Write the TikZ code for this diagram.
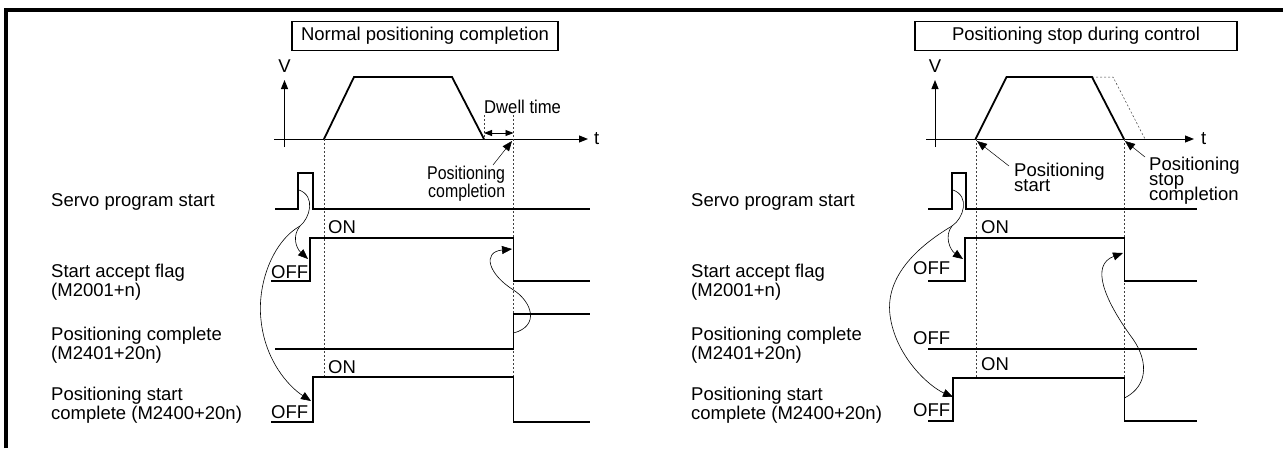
\documentclass[tikz,border=0pt]{standalone}
\usepackage{fontspec}
\setmainfont{Liberation Sans}
\usepackage{graphicx}
\usetikzlibrary{positioning,arrows.meta}

\newcommand\narrowtext[2]{\scalebox{#1}[1]{#2}}

\tikzset{
  txt/.style={inner sep=0pt, font=\fontsize{18.5}{20}\selectfont},
  stack/.style={inner sep=0pt, align=left, anchor=north west,
    font=\fontsize{18.5}{#1}\selectfont,
    execute at begin node={\lineskiplimit=-50pt\relax}},
  sigline/.style={line width=1.8pt},
  axisline/.style={line width=1pt, -{Triangle[length=9pt,width=7pt]}},
  guide/.style={line width=0.7pt, dash pattern=on 2pt off 2pt, black!75},
  cause/.style={line width=0.6pt, -{Triangle[length=10pt,width=8pt]}},
  titlebox/.style={draw, line width=1.3pt, inner sep=0pt, minimum height=29pt,
    font=\fontsize{18.5}{20}\selectfont},
}

\begin{document}
\begin{tikzpicture}[x=1pt,y=-1pt]
\useasboundingbox (0,0) rectangle (1283,448);
% frame
\draw[line width=4pt] (6,448) -- (6,10) -- (1283,10);

%%% left: normal positioning completion
\node[titlebox, minimum width=266pt] (lTitle) at (425,36) {Normal positioning completion};
\draw[axisline] (284.5,147) -- (284.5,80);
\node[txt] (lV) at (284.5,66) {V};
\draw[axisline] (274,139) -- (588,139);
\node[txt, anchor=west] (lT) at (594,139) {t};
\draw[sigline] (324,139) -- (354,77) -- (452,77) -- (484,139);

% dwell time
\draw[guide] (484,115) -- (484,139);
\draw[guide] (513.5,115) -- (513.5,378);
\draw[guide] (324,139) -- (324,377);
\draw[line width=0.8pt, {Triangle[length=8pt,width=6pt]}-{Triangle[length=8pt,width=6pt]}] (484,133) -- (513.5,133);
\node[txt, anchor=west] (lDwell) at (484,107) {\narrowtext{0.9}{Dwell time}};
\node[txt, anchor=base west] (lPc1) at (427,179.5) {\narrowtext{0.86}{Positioning}};
\node[txt, anchor=base west] (lPc2) at (428,197.5) {\narrowtext{0.86}{completion}};
\coordinate (lPcTip) at (512,141);
\draw[cause, line width=0.5pt] (493,165) -- (lPcTip);

% signal names
\node[txt, anchor=base west] (lServo) at (51,206) {Servo program start};
\node[txt, anchor=base west] (lAcc1) at (51,277) {Start accept flag};
\node[txt, anchor=base west] (lAcc2) at (51,296) {(M2001+n)};
\node[txt, anchor=base west] (lCmp1) at (51,340) {Positioning complete};
\node[txt, anchor=base west] (lCmp2) at (51,359) {(M2401+20n)};
\node[txt, anchor=base west] (lStc1) at (51,400) {Positioning start};
\node[txt, anchor=base west] (lStc2) at (51,419) {complete (M2400+20n)};

% waveforms
\draw[sigline] (275,209) -- (298,209) -- (298,173) -- (313,173) -- (313,209) -- (590,209);
\draw[sigline] (271,281) -- (310,281) -- (310,238) -- (513.5,238) -- (513.5,281) -- (590,281);
\draw[sigline] (275,349) -- (513.5,349) -- (513.5,314) -- (590,314);
\draw[sigline] (271,422) -- (313,422) -- (313,377) -- (513.5,377) -- (513.5,422) -- (590,422);
\node[txt, anchor=west] (lOn1) at (328,227) {ON};
\node[txt, anchor=west] (lOn2) at (328,367) {ON};
\node[txt, anchor=west] (lOff1) at (271,272) {OFF};
\node[txt, anchor=west] (lOff2) at (271,412) {OFF};

% cause arrows
\coordinate (lPulse) at (299,190);
\coordinate (lSplit) at (300,226);
\draw[cause] (lPulse) .. controls (316,196) and (310,218) .. (lSplit) .. controls (292,236) and (296,248) .. (308,259);
\draw[cause] (lSplit) .. controls (272,242) and (257,285) .. (261,320) .. controls (265,360) and (288,386) .. (311,401);
\draw[cause] (513.5,333) .. controls (540,326) and (532,302) .. (513.5,290) .. controls (488,274) and (482,252) .. (512,249);

%%% right: positioning stop during control
\node[titlebox, minimum width=322pt] (rTitle) at (1076,36) {Positioning stop during control};
\draw[axisline] (935,147) -- (935,80);
\node[txt] (rV) at (935,66) {V};
\draw[axisline] (926,139) -- (1194,139);
\node[txt, anchor=west] (rT) at (1201,139) {t};
\draw[guide, line width=0.5pt] (1092,77) -- (1113,77) -- (1145,139);
\draw[sigline] (975.5,139) -- (1006.5,77) -- (1092,77) -- (1124,139);
\draw[guide] (976,139) -- (976,378);
\draw[guide] (1124.5,139) -- (1124.5,378);

\node[stack=15] (rPs) at (1014,162.7) {Positioning\\start};
\draw[cause, line width=0.5pt] (1009,166) -- (977,141);
\node[stack=15] (rPe) at (1149,156.7) {Positioning\\stop\\completion};
\draw[cause, line width=0.5pt] (1145,157) -- (1125,141);

\node[txt, anchor=base west] (rServo) at (691,206) {Servo program start};
\node[txt, anchor=base west] (rAcc1) at (691,277) {Start accept flag};
\node[txt, anchor=base west] (rAcc2) at (691,296) {(M2001+n)};
\node[txt, anchor=base west] (rCmp1) at (691,340) {Positioning complete};
\node[txt, anchor=base west] (rCmp2) at (691,359) {(M2401+20n)};
\node[txt, anchor=base west] (rStc1) at (691,400) {Positioning start};
\node[txt, anchor=base west] (rStc2) at (691,419) {complete (M2400+20n)};

\draw[sigline] (928,209) -- (952,209) -- (952,173) -- (966,173) -- (966,209) -- (1197,209);
\draw[sigline] (928,281) -- (965,281) -- (965,238) -- (1124.5,238) -- (1124.5,281) -- (1197,281);
\draw[sigline] (928,349) -- (1197,349);
\draw[sigline] (928,421) -- (953,421) -- (953,378) -- (1124.5,378) -- (1124.5,421) -- (1197,421);
\node[txt, anchor=west] (rOn1) at (981,227) {ON};
\node[txt, anchor=west] (rOn2) at (981,364) {ON};
\node[txt, anchor=west] (rOff1) at (913,268) {OFF};
\node[txt, anchor=west] (rOff2) at (913,338) {OFF};
\node[txt, anchor=west] (rOff3) at (913,410) {OFF};

\coordinate (rPulse) at (953,190);
\coordinate (rSplit) at (952,226);
\draw[cause] (rPulse) .. controls (970,196) and (964,218) .. (rSplit) .. controls (944,236) and (950,250) .. (963,259);
\draw[cause] (rSplit) .. controls (920,245) and (885,275) .. (890,315) .. controls (895,355) and (928,386) .. (953,397);
\draw[cause] (1124.5,398) .. controls (1150,385) and (1148,358) .. (1130,335) .. controls (1105,300) and (1090,265) .. (1123,253);
\end{tikzpicture}
\end{document}
